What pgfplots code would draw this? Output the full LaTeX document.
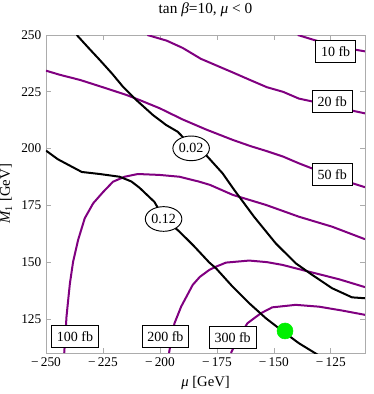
\documentclass[border=0pt]{standalone}
\usepackage{fontspec}
\setmainfont{Liberation Serif}
\usepackage{pgfplots}
\pgfplotsset{compat=1.18}
\usetikzlibrary{shapes.geometric}
\definecolor{cpurple}{RGB}{128,0,128}
\definecolor{cgreen}{RGB}{0,240,0}
\tikzset{
  fblabel/.style={draw=black, line width=0.7pt, fill=white, inner xsep=4pt, inner ysep=0pt,
    minimum height=16.5pt, font=\fontsize{10.5}{12}\selectfont},
  omlabel/.style={ellipse, draw=black, line width=0.7pt, fill=white, inner sep=0.5pt,
    minimum width=26pt, minimum height=18.5pt, font=\fontsize{10.5}{12}\selectfont},
  purp/.style={cpurple, line width=1.5pt},
  blk/.style={black, line width=1.5pt},
}
\begin{document}
\begin{tikzpicture}
\begin{axis}[
    scale only axis,
    width=239.25pt, height=238.5pt,
    xmin=-250, xmax=-110, ymin=110, ymax=250,
    xtick={-250,-225,-200,-175,-150,-125},
    xticklabels={−\,250,−\,225,−\,200,−\,175,−\,150,−\,125},
    ytick={125,150,175,200,225,250},
    axis line style={gray!65},
    tick style={gray!65, line width=0.5pt},
    major tick length=3.75pt,
    tick label style={font=\fontsize{10}{12}\selectfont, black},
    /pgf/number format/assume math mode=true,
    xlabel={\textit{μ} [GeV]},
    ylabel={\textit{M}\textsubscript{1} [GeV]},
    label style={font=\fontsize{11}{13}\selectfont},
    title={tan \textit{β}=10, \textit{μ} < 0},
    title style={font=\fontsize{11.5}{13}\selectfont, yshift=4pt},
]
% 10 fb
\addplot[purp] coordinates {(-139.5,250) (-133,248) (-127,246.3) (-120,244.5) (-110,242.8)};
% 20 fb
\addplot[purp] coordinates {(-205.5,250) (-197,247.5) (-190,244.3) (-182,239.5) (-175,236.5)
  (-168,233.5) (-160,230) (-153,227) (-146,225) (-139,222) (-132,220.5) (-124,218.5) (-117,217) (-110,215.5)};
% 50 fb
\addplot[purp] coordinates {(-250,234.3) (-244,232.5) (-235,230.2) (-223.5,226.5) (-214.7,223.6)
  (-209,221.4) (-200,217.7) (-190,212.8) (-180,208.5) (-168,203.8) (-160,201) (-153.5,199)
  (-146,196.5) (-139,193.5) (-130,190) (-124,188) (-118,185.5) (-110,183)};
% 100 fb
\addplot[purp] coordinates {(-242,110) (-241.5,118) (-241,126) (-240.3,133) (-239.5,140.7)
  (-238.1,150.2) (-235.9,159.8) (-233,169.3) (-229.3,175.9) (-225,180.8) (-220.6,185.4)
  (-215.5,187.6) (-209.7,188.8) (-200.2,188.4) (-191.4,187.6) (-183,185.5) (-178,184)
  (-168,179.6) (-153.5,175.2) (-139,170) (-124.4,165.6) (-110,160.1)};
% 200 fb
\addplot[purp] coordinates {(-196,110) (-195,116) (-193.6,123.1) (-190.7,130.4) (-185.6,140)
  (-182.5,143.5) (-178.3,146.6) (-175.4,148) (-171,149.8) (-160.8,150.7) (-153,150)
  (-146.3,148.8) (-134.6,145.8) (-121.5,142.5) (-110,139)};
% 300 fb
\addplot[purp] coordinates {(-168.8,110) (-166,116) (-161.6,123.1) (-155.7,127.5) (-150.7,130.1)
  (-140.4,131.2) (-130.2,130.4) (-120.1,128.7) (-110,126.8)};
% Omega h^2 = 0.02
\addplot[blk] coordinates {(-236.5,250) (-231.5,244.5) (-226.4,239) (-221,233) (-216.2,227.2)
  (-210.4,221.4) (-203.1,214.8) (-197.3,210.4) (-192.2,207.4) (-186,201) (-179.8,197.2)
  (-172.5,189.1) (-167.4,181.8) (-158.7,170) (-149.2,158.3) (-140.4,149.5) (-133.2,144.4)
  (-124.4,138.5) (-115.7,134.5) (-110,134.1)};
% Omega h^2 = 0.12
\addplot[blk] coordinates {(-250,199.1) (-244.8,195.3) (-239,192.2) (-234.3,189.7) (-226.4,188.8)
  (-217.7,187.6) (-212.5,185.5) (-208.9,182.7) (-202.4,176.5) (-198.4,169.5) (-191.4,163.4)
  (-185,157) (-178.3,149.8) (-175.4,147.3) (-168.1,139.2) (-160.8,131.9) (-153.5,125.3)
  (-146,119.5) (-139,114.3) (-132,110) (-128,107.5)};
% benchmark point
\addplot[only marks, mark=*, mark size=6pt, color=cgreen, mark options={draw=none}]
  coordinates {(-145.1,119.7)};
% contour labels
\node[fblabel] at (axis cs:-122.9,242.6) {10 fb};
\node[fblabel] at (axis cs:-124.4,220.6) {20 fb};
\node[fblabel] at (axis cs:-124.4,188.4) {50 fb};
\node[fblabel] at (axis cs:-237.3,117.2) {100 fb};
\node[fblabel] at (axis cs:-197.6,117.2) {200 fb};
\node[fblabel] at (axis cs:-168.1,116.8) {300 fb};
\node[omlabel] at (axis cs:-186.3,200.1) {0.02};
\node[omlabel] at (axis cs:-198.4,169.0) {0.12};
\coordinate (sw) at (rel axis cs:0,0);
\coordinate (ne) at (rel axis cs:1,1);
\end{axis}
\pgfresetboundingbox
\path[use as bounding box] ([shift={(-34.5pt,-30.75pt)}]sw) rectangle ([shift={(6.75pt,26.25pt)}]ne);
\end{tikzpicture}
\end{document}
